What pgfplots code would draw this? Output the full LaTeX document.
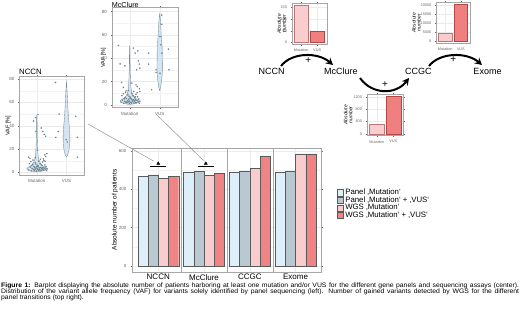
\documentclass[border=0pt]{standalone}
\usepackage{pgfplots}
\pgfplotsset{compat=1.18}
\usepackage{fontspec}
\setmainfont{Liberation Sans}
\newfontfamily\capfont{Liberation Sans}[FakeStretch=1.05]
\usetikzlibrary{arrows.meta}
\newcommand{\fs}[1]{\fontsize{#1}{#1}\selectfont}
\definecolor{bordergrey}{HTML}{A6A6A6}
\definecolor{gridgrey}{HTML}{EBEBEB}
\definecolor{tickgrey}{HTML}{666666}
\definecolor{cA}{HTML}{DDEFF9}
\definecolor{cB}{HTML}{B9C9D1}
\definecolor{cC}{HTML}{F9CDCD}
\definecolor{cD}{HTML}{F08383}
\definecolor{bardraw}{HTML}{5A5A5A}
\definecolor{smut}{HTML}{F9CDCD}
\definecolor{smutd}{HTML}{B87878}
\definecolor{svus}{HTML}{F08080}
\definecolor{svusd}{HTML}{B04848}
\definecolor{vfill}{HTML}{D3E5F0}
\definecolor{vdraw}{HTML}{7A8A94}
\definecolor{pcol}{HTML}{8AA3B0}
\definecolor{conn}{HTML}{8C8C8C}
\pgfplotsset{ggbase/.style={scale only axis, anchor=south west,
  axis line style={draw=bordergrey, line width=0.4pt},
  tick align=outside, major tick length=1.2pt, minor tick length=0pt,
  tick style={tickgrey, line width=0.3pt},
  xmajorgrids, ymajorgrids, yminorgrids,
  major grid style={gridgrey, line width=0.35pt},
  minor grid style={gridgrey!60, line width=0.25pt},
  tick label style={font=\fs{4.5}, text=tickgrey},
  /pgf/number format/assume math mode=true,
  /pgf/number format/1000 sep={}},
  sqlegend/.style={legend image code/.code={\draw[##1] (0pt,-3.1pt) rectangle (6.3pt,3.1pt);}}}
\begin{document}
\begin{tikzpicture}[x=1pt,y=1pt]
\useasboundingbox (0,0) rectangle (520,309);

% ---------------- main bar chart ----------------
\begin{axis}[ggbase, at={(131.7pt,37.3pt)}, width=190pt, height=123.7pt,
  xmin=-0.58, xmax=3.57, ymin=-31, ymax=617,
  xtick={0,1,2,3}, xticklabels={NCCN,McClure,CCGC,Exome},
  x tick style={draw=none},
  xticklabel style={font=\fs{8}, text=black, inner sep=0pt, anchor=north, yshift=-1.2pt},
  ytick={0,200,400,600}, minor ytick={100,300,500},
  yticklabel style={xshift=-0.5pt},
  ylabel={Absolute number of patients},
  ylabel style={font=\fs{6.5}, text=black, at={(axis description cs:-0.088,0.5)}, anchor=center},
  legend style={at={(axis description cs:1.08,0.669)}, anchor=north west, draw=none, fill=none,
    font=\fs{7.8}, inner sep=0pt, row sep=0.4pt,
    nodes={inner xsep=1.5pt, inner ysep=0pt, text height=5.6pt, text depth=1.6pt},
    /tikz/every even column/.append style={column sep=1.5pt}},
  legend cell align=left]
\addplot[ybar, bar width=0.2236, bar shift=-0.3354, fill=cA, draw=bardraw, line width=0.4pt, sqlegend]
  coordinates {(0,470) (1,492) (2,492) (3,492)};
\addplot[ybar, bar width=0.2236, bar shift=-0.1118, fill=cB, draw=bardraw, line width=0.4pt, sqlegend]
  coordinates {(0,476) (1,495) (2,495) (3,495)};
\addplot[ybar, bar width=0.2236, bar shift=0.1118, fill=cC, draw=bardraw, line width=0.4pt, sqlegend]
  coordinates {(0,458) (1,474) (2,511) (3,586)};
\addplot[ybar, bar width=0.2236, bar shift=0.3354, fill=cD, draw=bardraw, line width=0.4pt, sqlegend]
  coordinates {(0,467) (1,484) (2,575) (3,586)};
\legend{Panel ‚Mutation‘, Panel ‚Mutation‘ + ‚VUS‘, WGS ‚Mutation‘, WGS ‚Mutation‘ + ‚VUS‘}
\addplot[forget plot, black, line width=1pt] coordinates {(-0.17,522) (0.18,522)};
\addplot[forget plot, black, line width=1pt] coordinates {(0.87,522) (1.21,522)};
\addplot[forget plot, only marks, mark=triangle*, mark size=1.7pt, black] coordinates {(0,536) (1.04,536)};
\draw[bordergrey, line width=0.4pt] (axis cs:0.5,-31) -- (axis cs:0.5,617);
\draw[bordergrey, line width=0.4pt] (axis cs:1.5,-31) -- (axis cs:1.5,617);
\draw[bordergrey, line width=0.4pt] (axis cs:2.5,-31) -- (axis cs:2.5,617);
\end{axis}

% ---------------- NCCN violin ----------------
\begin{axis}[ggbase, at={(19pt,134pt)}, width=65.3pt, height=98.3pt,
  xmin=0.4, xmax=2.6, ymin=-2.3, ymax=82,
  xtick={1,2}, xticklabels={Mutation,VUS},
  ytick={0,20,40,60,80}, minor ytick={10,30,50,70},
  title={NCCN}, every axis title/.style={at={(axis description cs:0,1)}, anchor=base west, yshift=2.2pt, font=\fs{7.8}, inner sep=0pt},
  ylabel={VAF [\%]}, ylabel style={font=\fs{5.5}, text=black, at={(axis description cs:-0.164,0.5)}, anchor=center}]
\addplot[fill=vfill, draw=vdraw, line width=0.35pt] coordinates {
 (1.02,0.3) (1.17,1) (1.30,2) (1.34,3) (1.31,4) (1.24,5) (1.18,6) (1.12,8) (1.08,10) (1.05,13) (1.035,17) (1.025,22) (1.015,30) (1.01,40) (1.008,46) (1,49.5)
 (0.992,46) (0.99,40) (0.985,30) (0.975,22) (0.965,17) (0.95,13) (0.92,10) (0.88,8) (0.82,6) (0.76,5) (0.69,4) (0.66,3) (0.70,2) (0.83,1) (0.98,0.3) (1.02,0.3)};
\addplot[fill=vfill, draw=vdraw, line width=0.35pt] coordinates {
 (2,13) (2.04,15) (2.075,18) (2.1,22) (2.115,27) (2.115,32) (2.1,37) (2.085,42) (2.068,47) (2.055,52) (2.044,57) (2.035,62) (2.026,67) (2.016,72) (2.006,76) (2,77.5)
 (1.994,76) (1.984,72) (1.974,67) (1.965,62) (1.956,57) (1.945,52) (1.932,47) (1.915,42) (1.9,37) (1.885,32) (1.885,27) (1.9,22) (1.925,18) (1.96,15) (2,13)};
\addplot[only marks, mark=*, mark size=0.55pt, pcol, draw=pcol!80!black] coordinates {
 (0.72,2.1)(0.78,4.5)(0.81,1.2)(0.84,3.3)(0.86,6.8)(0.88,2.5)(0.9,5.1)(0.92,1.6)(0.93,3.9)(0.95,8.2)(0.96,2.8)(0.98,4.6)(0.99,1.1)(1.01,3.4)(1.02,6.1)(1.04,2.2)(1.05,5.5)(1.07,1.7)(1.08,3.8)(1.1,2.6)(1.11,7.4)(1.13,4.2)(1.14,1.4)(1.16,3.1)(1.18,5.8)(1.19,2.4)(1.21,4.0)(1.23,1.9)(1.25,3.5)(1.27,6.4)(1.29,2.7)(1.31,4.8)(1.33,1.5)(1.35,3.0)(0.75,7.5)(0.8,9.2)(1.2,8.8)(0.87,10.5)(1.12,11.2)(0.95,12.5)(1.24,10.1)(0.83,5.7)(1.06,9.6)(0.97,7.1)(1.17,3.6)(0.91,2.0)(1.03,4.9)(1.15,6.6)
 (0.89,44)(0.96,47)(1.04,49.5)(0.97,35)(1.15,38)(1.2,35)(1.25,32.5)(1.3,31)(1.03,19)(0.72,13)(0.77,12)(1.27,15)(1.3,13.5)(1.22,11.5)(1.28,9.5)(1.34,16)
 (1.63,77)(1.75,50)(1.72,35)(1.64,30)(2.31,48)(2.37,30)(2.37,13)(1.99,28)(2.02,26)};
\end{axis}

% ---------------- McClure violin ----------------
\begin{axis}[ggbase, at={(111.7pt,201.5pt)}, width=66pt, height=100pt,
  xmin=0.4, xmax=2.6, ymin=-2.3, ymax=83.4,
  xtick={1,2}, xticklabels={Mutation,VUS},
  ytick={0,20,40,60,80}, minor ytick={10,30,50,70},
  title={McClure}, every axis title/.style={at={(axis description cs:0,1)}, anchor=base west, yshift=0.3pt, font=\fs{7.2}, inner sep=0pt},
  ylabel={VAF [\%]}, ylabel style={font=\fs{5.5}, text=black, at={(axis description cs:-0.125,0.5)}, anchor=center}]
\addplot[fill=vfill, draw=vdraw, line width=0.35pt] coordinates {
 (1.02,0.3) (1.16,1) (1.28,2) (1.32,3) (1.30,4) (1.23,5) (1.17,6) (1.11,8) (1.075,10) (1.05,13) (1.035,17) (1.025,22) (1.015,30) (1.01,40) (1.008,47) (1,51)
 (0.992,47) (0.99,40) (0.985,30) (0.975,22) (0.965,17) (0.95,13) (0.925,10) (0.89,8) (0.83,6) (0.77,5) (0.70,4) (0.68,3) (0.72,2) (0.84,1) (0.98,0.3) (1.02,0.3)};
\addplot[fill=vfill, draw=vdraw, line width=0.35pt] coordinates {
 (2,12) (2.03,15) (2.06,20) (2.08,25) (2.09,30) (2.09,35) (2.085,40) (2.085,45) (2.08,50) (2.065,55) (2.05,60) (2.04,65) (2.03,70) (2.015,75) (2,78)
 (1.985,75) (1.97,70) (1.96,65) (1.95,60) (1.935,55) (1.92,50) (1.915,45) (1.915,40) (1.91,35) (1.91,30) (1.92,25) (1.94,20) (1.97,15) (2,12)};
\addplot[only marks, mark=*, mark size=0.55pt, pcol, draw=pcol!80!black] coordinates {
 (0.71,2.3)(0.76,4.1)(0.8,1.3)(0.83,3.0)(0.85,6.2)(0.87,2.2)(0.89,5.4)(0.91,1.8)(0.93,3.6)(0.94,8.5)(0.96,2.6)(0.97,4.9)(0.99,1.2)(1.0,3.2)(1.02,6.5)(1.03,2.0)(1.05,5.0)(1.06,1.5)(1.08,4.0)(1.09,2.9)(1.11,7.8)(1.12,4.4)(1.14,1.6)(1.15,3.3)(1.17,6.0)(1.19,2.1)(1.2,4.3)(1.22,1.7)(1.24,3.7)(1.26,6.9)(1.28,2.5)(1.3,5.0)(1.32,1.4)(1.34,3.2)(0.74,7.9)(0.79,9.5)(1.21,9.0)(0.86,10.8)(1.13,11.5)(0.96,12.2)(1.25,10.4)(0.82,5.2)(1.07,9.9)(0.98,7.3)(1.16,3.8)(0.9,2.4)(1.01,5.3)(1.18,7.0)
 (0.62,50.9)(0.68,35.1)(0.84,33.4)(1.12,48.6)(1.27,46.3)(1.18,44.3)(1.29,37.7)(1.32,34.9)(1.34,31.4)(1.23,30)(1.07,18.6)(0.73,19.1)(0.79,14.9)(0.88,12)(1.21,17.1)(1.25,15.7)(1.32,13.7)(1.34,11.4)
 (1.63,44.3)(1.63,34.9)(2.07,77)(2.07,69)(2.01,58.6)(2.04,51.4)(2.07,44.3)(1.88,30)(1.88,27.7)(2.01,27.1)(1.73,12.9)(2.29,47.7)(2.31,30)};
\end{axis}

% ---------------- small bar insets ----------------
\begin{axis}[ggbase, at={(291.7pt,264.7pt)}, width=35pt, height=41pt,
  xmin=0.4, xmax=2.6, ymin=-8, ymax=168, yminorgrids=false,
  xtick={1,2}, xticklabels={Mutation,VUS}, ytick={0,50,100,150},
  tick label style={font=\fs{3.8}},
  ylabel={Absolute\\number}, ylabel style={font=\fs{5}\itshape, text=black, align=center, at={(axis description cs:-0.29,0.5)}, anchor=center}]
\addplot[ybar, bar width=0.9, bar shift=0, fill=smut, draw=smutd, line width=0.4pt] coordinates {(1,160)};
\addplot[ybar, bar width=0.9, bar shift=0, fill=svus, draw=svusd, line width=0.4pt] coordinates {(2,48)};
\end{axis}

\begin{axis}[ggbase, at={(366.7pt,173.4pt)}, width=36.6pt, height=41.5pt,
  xmin=0.4, xmax=2.6, ymin=-62, ymax=1306, yminorgrids=false,
  xtick={1,2}, xticklabels={Mutation,VUS}, ytick={0,400,800,1200},
  tick label style={font=\fs{3.8}},
  ylabel={Absolute\\number}, ylabel style={font=\fs{5}\itshape, text=black, align=center, at={(axis description cs:-0.51,0.5)}, anchor=center}]
\addplot[ybar, bar width=0.9, bar shift=0, fill=smut, draw=smutd, line width=0.4pt] coordinates {(1,310)};
\addplot[ybar, bar width=0.9, bar shift=0, fill=svus, draw=svusd, line width=0.4pt] coordinates {(2,1244)};
\end{axis}

\begin{axis}[ggbase, at={(436pt,265.8pt)}, width=34pt, height=40.9pt,
  xmin=0.4, xmax=2.6, ymin=-1025, ymax=21525, yminorgrids=false,
  xtick={1,2}, xticklabels={Mutation,VUS}, ytick={0,5000,10000,15000,20000},
  scaled y ticks=false,
  tick label style={font=\fs{3.8}},
  ylabel={Absolute\\number}, ylabel style={font=\fs{5}\itshape, text=black, align=center, at={(axis description cs:-0.58,0.5)}, anchor=center}]
\addplot[ybar, bar width=0.9, bar shift=0, fill=smut, draw=smutd, line width=0.4pt] coordinates {(1,4600)};
\addplot[ybar, bar width=0.9, bar shift=0, fill=svus, draw=svusd, line width=0.4pt] coordinates {(2,20500)};
\end{axis}

% ---------------- connectors, flow diagram ----------------
\draw[conn, line width=0.45pt] (88,185) -- (153.5,148);
\draw[conn, line width=0.45pt] (157,194) -- (203.5,148.5);

\node[font=\fs{9}] at (271.7,237.3) {NCCN};
\node[font=\fs{9}] at (340.8,237.3) {McClure};
\node[font=\fs{9}] at (418.3,237.3) {CCGC};
\node[font=\fs{9}] at (487.5,237.3) {Exome};
\draw[line width=2pt, -{Stealth[length=7pt,width=7.5pt]}] (281,243) .. controls (292,257) and (318,257) .. (333,244);
\draw[line width=2pt, -{Stealth[length=7pt,width=7.5pt]}] (360,231) .. controls (372,214) and (396,214) .. (409,231);
\draw[line width=2pt, -{Stealth[length=7pt,width=7.5pt]}] (429,243) .. controls (440,257) and (467,257) .. (482,244);
\node[font=\fs{10}] at (308.3,248.5) {+};
\node[font=\fs{10}] at (385,224) {+};
\node[font=\fs{10}] at (453.3,249) {+};

% ---------------- caption ----------------
\node[anchor=base west, inner sep=0pt, font=\capfont\fs{6.5}] at (1,22) {\makebox[518pt][s]{\textbf{Figure 1:} Barplot displaying the absolute number of patients harboring at least one mutation and/or VUS for the different gene panels and sequencing assays (center).}};
\node[anchor=base west, inner sep=0pt, font=\capfont\fs{6.5}] at (1,16) {\makebox[518pt][s]{Distribution of the variant allele frequency (VAF) for variants solely identified by panel sequencing (left). Number of gained variants detected by WGS for the different}};
\node[anchor=base west, inner sep=0pt, font=\capfont\fs{6.5}] at (1,10) {panel transitions (top right).};
\end{tikzpicture}
\end{document}
